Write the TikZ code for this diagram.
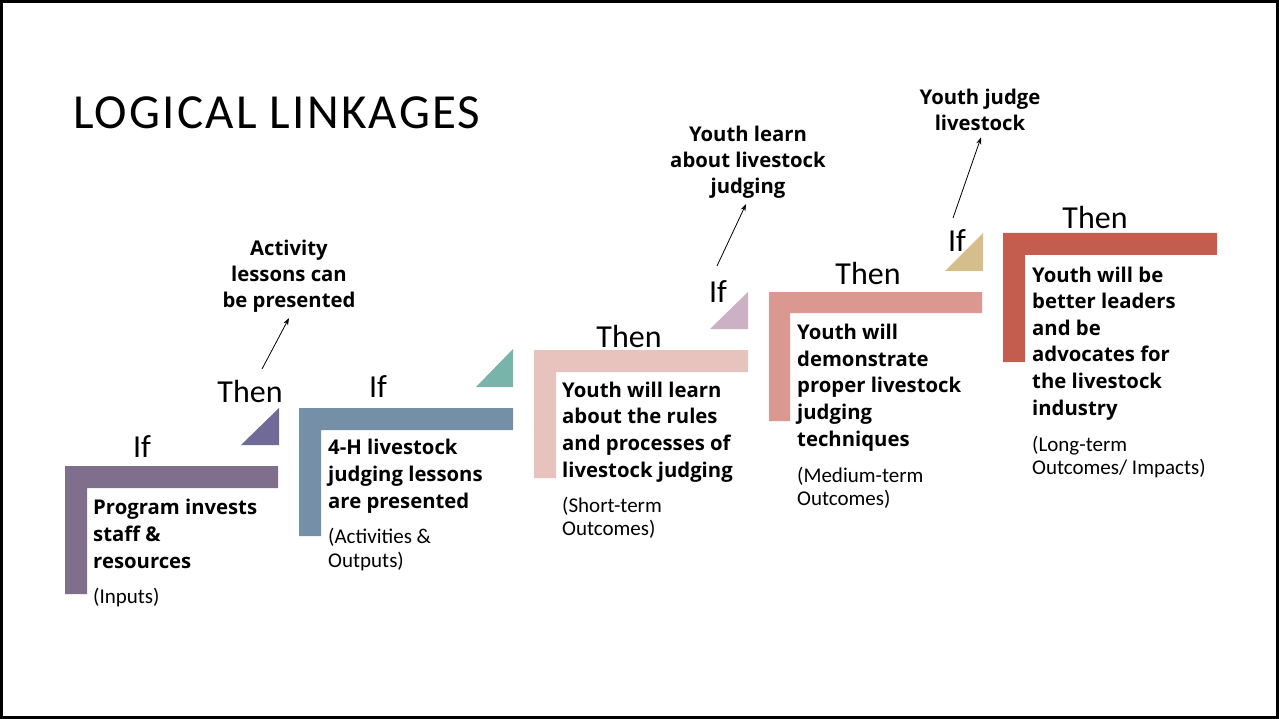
\documentclass[tikz,border=0pt]{standalone}
\usepackage{fontspec}
\setmainfont{Carlito}
\newfontfamily\cfont{Open Sans}
\newfontfamily\tfont[LetterSpace=4.5]{Carlito}
\usetikzlibrary{arrows.meta,calc}
\definecolor{cA}{RGB}{128,111,140}
\definecolor{tA}{RGB}{111,106,152}
\definecolor{cB}{RGB}{117,143,166}
\definecolor{tB}{RGB}{120,180,170}
\definecolor{cC}{RGB}{232,194,188}
\definecolor{tC}{RGB}{204,176,196}
\definecolor{cD}{RGB}{218,152,144}
\definecolor{tD}{RGB}{213,190,140}
\definecolor{cE}{RGB}{197,93,78}
\begin{document}
\begin{tikzpicture}[x=1pt,y=-1pt,
  titletext/.style={anchor=base west, inner sep=0, font=\tfont\fontsize{49}{52}\selectfont},
  ifthen/.style={anchor=base, inner sep=0, font=\fontsize{32}{36}\selectfont},
  maintext/.style={anchor=base west, inner sep=0, align=left, font=\cfont\bfseries\fontsize{20.3}{26.6}\selectfont},
  subtext/.style={anchor=base west, inner sep=0, align=left, font=\fontsize{21}{23.5}\selectfont},
  anntext/.style={anchor=base, inner sep=0, align=center, font=\cfont\bfseries\fontsize{20.3}{26}\selectfont},
  arr/.style={-{Stealth[length=7pt,width=5pt]}, line width=0.8pt}]
\useasboundingbox (0,0) rectangle (1279,719);
\draw[line width=2.6pt] (1.3,1.3) rectangle (1277.7,717.7);

% bent bars
\fill[cA] (65,466) -- (278,466) -- (278,488) -- (87,488) -- (87,594) -- (65,594) -- cycle;
\fill[cB] (299,408) -- (513,408) -- (513,430) -- (321,430) -- (321,536) -- (299,536) -- cycle;
\fill[cC] (534,350) -- (748,350) -- (748,372) -- (556,372) -- (556,478) -- (534,478) -- cycle;
\fill[cD] (769,292) -- (982,292) -- (982,313) -- (790,313) -- (790,421) -- (769,421) -- cycle;
\fill[cE] (1003,233) -- (1217,233) -- (1217,255) -- (1025,255) -- (1025,362) -- (1003,362) -- cycle;
% triangles
\fill[tA] (241,445) -- (279,445) -- (279,408) -- cycle;
\fill[tB] (476,387) -- (513,387) -- (513,349) -- cycle;
\fill[tC] (710,329) -- (748,329) -- (748,292) -- cycle;
\fill[tD] (945,271) -- (983,271) -- (983,233) -- cycle;

\node[titletext] (title) at (73,129) {LOGICAL LINKAGES};

\node[ifthen] (if1) at (142,457) {If};
\node[ifthen] (then1) at (250,402) {Then};
\node[ifthen] (if2) at (378,397) {If};
\node[ifthen] (then2) at (629,347) {Then};
\node[ifthen] (if3) at (718,302) {If};
\node[ifthen] (then3) at (868,284) {Then};
\node[ifthen] (if4) at (957,252) {If};
\node[ifthen] (then4) at (1095,229) {Then};

% multi-line nodes are placed by the baseline of their last line
\node[maintext] (m1) at (93,568) {Program invests\\staff \&\\resources};
\node[subtext] (s1) at (93,603) {(Inputs)};
\node[maintext] (m2) at (328,508) {4-H livestock\\judging lessons\\are presented};
\node[subtext] (s2) at (328,567) {(Activities \&\\Outputs)};
\node[maintext] (m3) at (562,477) {Youth will learn\\about the rules\\and processes of\\livestock judging};
\node[subtext] (s3) at (562,535.5) {(Short-term\\Outcomes)};
\node[maintext] (m4) at (797,446) {Youth will\\demonstrate\\proper livestock\\judging\\techniques};
\node[subtext] (s4) at (797,505.5) {(Medium-term\\Outcomes)};
\node[maintext] (m5) at (1032,415) {Youth will be\\better leaders\\and be\\advocates for\\the livestock\\industry};
\node[subtext] (s5) at (1032,474.5) {(Long-term\\Outcomes/ Impacts)};

\node[anntext] (a1) at (289,307) {Activity\\lessons can\\be presented};
\node[anntext] (a2) at (748,194) {Youth learn\\about livestock\\judging};
\node[anntext] (a3) at (980,131) {Youth judge\\livestock};

\coordinate (p1) at (262,369);
\coordinate (p2) at (717,266);
\coordinate (p3) at (953,218);
\draw[arr] (p1) -- ($(a1.south)+(0,6)$);
\draw[arr] (p2) -- ($(a2.south)+(-2,5)$);
\draw[arr] (p3) -- ($(a3.south)+(1,6)$);
\end{tikzpicture}
\end{document}
